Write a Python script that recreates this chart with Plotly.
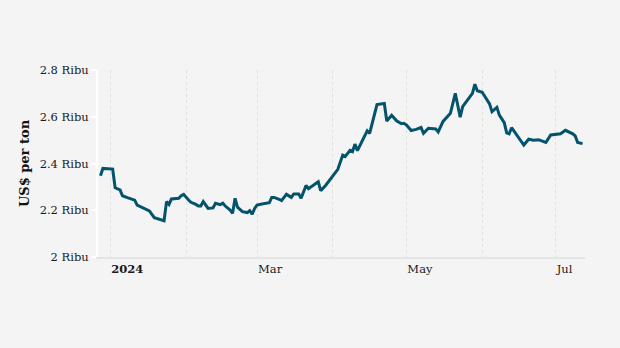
import plotly.graph_objects as go

# Daily price, thousands of US$ per ton
dates = [
    "2023-12-28", "2023-12-29", "2024-01-02", "2024-01-03", "2024-01-05", "2024-01-06",
    "2024-01-08", "2024-01-10", "2024-01-11", "2024-01-12", "2024-01-14", "2024-01-15",
    "2024-01-17", "2024-01-19", "2024-01-21", "2024-01-23", "2024-01-24", "2024-01-25",
    "2024-01-26", "2024-01-28", "2024-01-29", "2024-01-30", "2024-01-31",
    "2024-02-02", "2024-02-03", "2024-02-05", "2024-02-06", "2024-02-07", "2024-02-08",
    "2024-02-10", "2024-02-12", "2024-02-13", "2024-02-15", "2024-02-16", "2024-02-17",
    "2024-02-19", "2024-02-20", "2024-02-21", "2024-02-22", "2024-02-24", "2024-02-26",
    "2024-02-27", "2024-02-28", "2024-02-29",
    "2024-03-01", "2024-03-03", "2024-03-05", "2024-03-06", "2024-03-07", "2024-03-08",
    "2024-03-10", "2024-03-11", "2024-03-13", "2024-03-14", "2024-03-15", "2024-03-16",
    "2024-03-18", "2024-03-19", "2024-03-21", "2024-03-22", "2024-03-26", "2024-03-27",
    "2024-03-29",
    "2024-04-03", "2024-04-05", "2024-04-06", "2024-04-08", "2024-04-09", "2024-04-10",
    "2024-04-11", "2024-04-13", "2024-04-15", "2024-04-16", "2024-04-17", "2024-04-19",
    "2024-04-22", "2024-04-23", "2024-04-25", "2024-04-27", "2024-04-29", "2024-04-30",
    "2024-05-01", "2024-05-03", "2024-05-05", "2024-05-07", "2024-05-08", "2024-05-10",
    "2024-05-13", "2024-05-14", "2024-05-16", "2024-05-17", "2024-05-19", "2024-05-21",
    "2024-05-23", "2024-05-24", "2024-05-28", "2024-05-29", "2024-05-30",
    "2024-06-01", "2024-06-03", "2024-06-04", "2024-06-05", "2024-06-07", "2024-06-08",
    "2024-06-10", "2024-06-11", "2024-06-12", "2024-06-13", "2024-06-15", "2024-06-16",
    "2024-06-18", "2024-06-20", "2024-06-22", "2024-06-24", "2024-06-27", "2024-06-29",
    "2024-07-01", "2024-07-03", "2024-07-05", "2024-07-08", "2024-07-09", "2024-07-10",
    "2024-07-12",
]
price = [
    2.348, 2.379, 2.376, 2.296, 2.287, 2.262,
    2.254, 2.248, 2.243, 2.222, 2.211, 2.205,
    2.197, 2.168, 2.163, 2.155, 2.237, 2.225,
    2.248, 2.248, 2.251, 2.262, 2.268,
    2.244, 2.234, 2.225, 2.218, 2.218, 2.237,
    2.208, 2.210, 2.230, 2.224, 2.230, 2.218,
    2.201, 2.187, 2.251, 2.213, 2.194, 2.190,
    2.198, 2.183, 2.208,
    2.222, 2.227, 2.232, 2.232, 2.255, 2.255,
    2.247, 2.241, 2.268, 2.261, 2.255, 2.270,
    2.270, 2.251, 2.306, 2.292, 2.322, 2.284,
    2.306,
    2.375, 2.436, 2.430, 2.456, 2.451, 2.483,
    2.455, 2.500, 2.540, 2.529, 2.572, 2.652,
    2.657, 2.582, 2.606, 2.583, 2.570, 2.572,
    2.565, 2.541, 2.546, 2.554, 2.529, 2.551,
    2.548, 2.535, 2.580, 2.592, 2.615, 2.700,
    2.598, 2.643, 2.700, 2.739, 2.711,
    2.705, 2.672, 2.655, 2.622, 2.640, 2.607,
    2.575, 2.531, 2.527, 2.553, 2.524, 2.508,
    2.479, 2.504, 2.500, 2.502, 2.490, 2.522,
    2.526, 2.527, 2.542, 2.527, 2.518, 2.490,
    2.485,
]

x_tick_vals = ["2024-01-01", "2024-03-01", "2024-05-01", "2024-07-01"]
x_tick_text = ["<b>2024</b>", "Mar", "May", "Jul"]
y_tick_vals = [2.0, 2.2, 2.4, 2.6, 2.8]
y_tick_text = ["2 Ribu", "2.2 Ribu", "2.4 Ribu", "2.6 Ribu", "2.8 Ribu"]

BG = "#f4f4f4"
LINE = "#03536c"
GRID = "#e0e0e0"
SERIF = "DejaVu Serif"

fig = go.Figure(
    go.Scatter(
        x=dates,
        y=price,
        mode="lines",
        line=dict(color=LINE, width=3),
        hoverinfo="x+y",
    )
)

fig.update_layout(
    width=620,
    height=348,
    margin=dict(l=98, r=35, t=70, b=91),
    paper_bgcolor=BG,
    plot_bgcolor=BG,
    showlegend=False,
    font=dict(family=SERIF, size=11.5, color="#1a1a1a"),
)

fig.update_xaxes(
    type="date",
    range=["2023-12-27", "2024-07-13"],
    tickvals=x_tick_vals,
    ticktext=x_tick_text,
    ticklabelposition="outside right",
    ticks="",
    tickfont=dict(family=SERIF, size=11.5, color="#1a1a1a"),
    showgrid=True,
    gridcolor=GRID,
    griddash="dot",
    gridwidth=1.3,
    minor=dict(
        tick0="2024-01-01",
        dtick="M1",
        showgrid=True,
        gridcolor=GRID,
        griddash="dot",
        gridwidth=1.3,
    ),
    showline=True,
    linecolor="#e4e4e4",
    linewidth=2,
    zeroline=False,
)

fig.update_yaxes(
    range=[2.0, 2.8],
    tickvals=y_tick_vals,
    ticktext=y_tick_text,
    ticks="outside",
    ticklen=5,
    tickcolor="#ffffff",
    tickwidth=2,
    tickfont=dict(family=SERIF, size=11.5, color="#1a1a1a"),
    showgrid=False,
    showline=True,
    linecolor="#ffffff",
    linewidth=2,
    zeroline=False,
    title=dict(
        text="<b>US$ per ton</b>",
        font=dict(family=SERIF, size=13, color="#111111"),
        standoff=7,
    ),
)

fig.write_html("out.html")
